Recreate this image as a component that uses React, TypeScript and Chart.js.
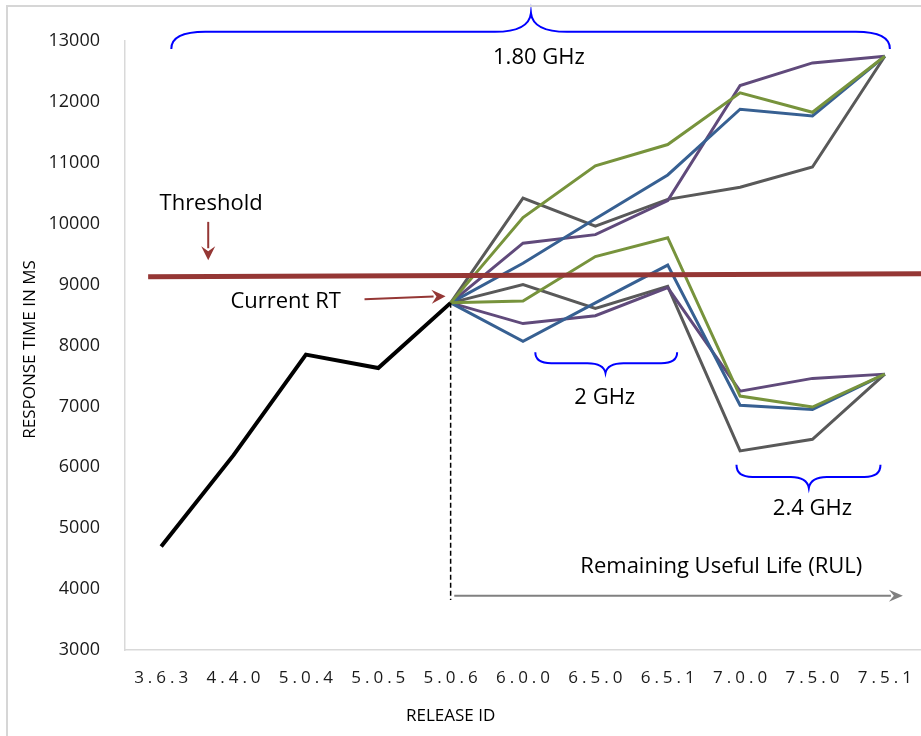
import React, { useEffect, useRef } from "react";
import { Chart, registerables } from "chart.js";

Chart.register(...registerables);

// ---------- data ----------
const CATEGORIES = ["3.6.3", "4.4.0", "5.0.4", "5.0.5", "5.0.6", "6.0.0", "6.5.0", "6.5.1", "7.0.0", "7.5.0", "7.5.1"];
const Y_MIN = 3000;
const Y_MAX = 13000;
const Y_STEP = 1000;

const HISTORY = [4700, 6200, 7850, 7630, 8700];
const CURRENT_RT = 8700;

// 1.80 GHz projections (6.0.0 .. 7.5.1)
const UP_GREEN = [10100, 10950, 11300, 12150, 11830, 12750];
const UP_BLUE = [9350, 10080, 10800, 11880, 11770, 12750];
const UP_PURPLE = [9680, 9820, 10380, 12270, 12640, 12750];
const UP_GRAY = [10420, 9960, 10400, 10600, 10930, 12750];

// 2 / 2.4 GHz projections (6.0.0 .. 7.5.1)
const LOW_GREEN = [8730, 9460, 9770, 7170, 6990, 7530];
const LOW_BLUE = [8070, 8700, 9320, 7020, 6950, 7530];
const LOW_PURPLE = [8360, 8490, 8950, 7250, 7460, 7530];
const LOW_GRAY = [9000, 8610, 8970, 6270, 6460, 7530];

const THRESHOLD = [9130, 9180]; // left end, right end

const LABEL_18 = "1.80 GHz";
const LABEL_2 = "2 GHz";
const LABEL_24 = "2.4 GHz";

// ---------- styles ----------
const GREEN = "#77933C";
const BLUE = "#376092";
const PURPLE = "#604A7B";
const GRAY = "#595959";
const DARK_RED = "#953735";
const BRACE_BLUE = "#0000FF";
const FONT = "'Open Sans', 'Noto Sans', sans-serif";

const CURRENT_INDEX = HISTORY.length - 1;
const pad = (arr: number[]) => [
  ...Array(CURRENT_INDEX).fill(null),
  CURRENT_RT,
  ...arr,
];

const annotations = {
  id: "annotations",
  afterDatasetsDraw(chart: any) {
    const ctx: CanvasRenderingContext2D = chart.ctx;
    const xs = chart.scales.x;
    const ys = chart.scales.y;
    const px = (i: number) => xs.getPixelForValue(i);
    const py = (v: number) => ys.getPixelForValue(v);
    const area = chart.chartArea;

    ctx.save();
    // threshold line
    ctx.strokeStyle = DARK_RED;
    ctx.lineWidth = 5;
    ctx.beginPath();
    ctx.moveTo(px(-0.18), py(THRESHOLD[0]));
    ctx.lineTo(area.right, py(THRESHOLD[1]));
    ctx.stroke();
    ctx.restore();
  },
  afterDraw(chart: any) {
    const ctx: CanvasRenderingContext2D = chart.ctx;
    const xs = chart.scales.x;
    const ys = chart.scales.y;
    const px = (i: number) => xs.getPixelForValue(i);
    const py = (v: number) => ys.getPixelForValue(v);
    const area = chart.chartArea;

    ctx.save();

    // x tick labels (letter-spaced)
    ctx.fillStyle = "#1a1a1a";
    ctx.font = `17px ${FONT}`;
    (ctx as any).letterSpacing = "4px";
    ctx.textAlign = "center";
    ctx.textBaseline = "middle";
    CATEGORIES.forEach((c, i) => {
      ctx.fillText(c, px(i) + 2, area.bottom + 28);
    });
    (ctx as any).letterSpacing = "0px";

    // axis titles
    ctx.font = `17px ${FONT}`;
    ctx.fillStyle = "#000";
    ctx.fillText("RELEASE ID", px(CURRENT_INDEX), area.bottom + 66);
    ctx.save();
    ctx.translate(30, (area.top + area.bottom) / 2 + 4);
    ctx.rotate(-Math.PI / 2);
    ctx.fillText("RESPONSE TIME IN MS", 0, 0);
    ctx.restore();

    // annotation texts
    ctx.font = `22px ${FONT}`;
    ctx.fillStyle = "#000";
    ctx.fillText("Threshold", px(0.69), py(10320));
    ctx.fillText("Current RT", px(1.72), py(8715));
    ctx.fillText("Remaining Useful Life (RUL)", px(7.74), py(4360));
    ctx.fillText(LABEL_18, px(5.22), py(12720));
    ctx.fillText(LABEL_2, px(6.13), py(7140));
    ctx.fillText(LABEL_24, px(9.0), py(5320));

    const arrow = (x1: number, y1: number, x2: number, y2: number, color: string, w: number, hl: number, hw: number) => {
      const ang = Math.atan2(y2 - y1, x2 - x1);
      const bx = x2 - hl * Math.cos(ang);
      const by = y2 - hl * Math.sin(ang);
      ctx.strokeStyle = color;
      ctx.fillStyle = color;
      ctx.lineWidth = w;
      ctx.beginPath();
      ctx.moveTo(x1, y1);
      ctx.lineTo(bx + 2 * Math.cos(ang), by + 2 * Math.sin(ang));
      ctx.stroke();
      ctx.beginPath();
      ctx.moveTo(x2, y2);
      ctx.lineTo(bx + hw * Math.sin(ang), by - hw * Math.cos(ang));
      ctx.lineTo(bx + 0.35 * hl * Math.cos(ang), by + 0.35 * hl * Math.sin(ang));
      ctx.lineTo(bx - hw * Math.sin(ang), by + hw * Math.cos(ang));
      ctx.closePath();
      ctx.fill();
    };

    // threshold arrow (down)
    arrow(px(0.65), py(10030), px(0.65), py(9400), DARK_RED, 2, 14, 7);
    // current RT arrow
    arrow(px(2.81), py(8760), px(3.93), py(8810), DARK_RED, 2, 14, 7);

    // dashed vertical at current release
    ctx.strokeStyle = "#000";
    ctx.lineWidth = 1.5;
    ctx.setLineDash([5, 3]);
    ctx.beginPath();
    ctx.moveTo(px(CURRENT_INDEX), py(CURRENT_RT));
    ctx.lineTo(px(CURRENT_INDEX), py(3820));
    ctx.stroke();
    ctx.setLineDash([]);

    // RUL arrow
    arrow(px(4.05), py(3890), px(10.25), py(3890), "#808080", 2, 14, 6);

    // braces
    const brace = (x1: number, xt: number, x2: number, yEnd: number, yMid: number, yTip: number, rEnd: number, rTip: number) => {
      ctx.strokeStyle = BRACE_BLUE;
      ctx.lineWidth = 2;
      ctx.beginPath();
      ctx.moveTo(x1, yEnd);
      ctx.quadraticCurveTo(x1, yMid, x1 + rEnd, yMid);
      ctx.lineTo(xt - rTip, yMid);
      ctx.quadraticCurveTo(xt - 2, yMid, xt, yTip);
      ctx.quadraticCurveTo(xt + 2, yMid, xt + rTip, yMid);
      ctx.lineTo(x2 - rEnd, yMid);
      ctx.quadraticCurveTo(x2, yMid, x2, yEnd);
      ctx.stroke();
    };
    brace(px(0.14), px(5.11), px(10.07), py(12870), py(13150), py(13460), 34, 36);
    brace(px(5.17), px(6.14), px(7.13), py(7890), py(7710), py(7550), 16, 18);
    brace(px(7.95), px(8.95), px(9.94), py(6040), py(5840), py(5660), 16, 18);

    ctx.restore();
  },
};

export default function App() {
  const canvasRef = useRef<HTMLCanvasElement | null>(null);

  useEffect(() => {
    const prevMargin = document.body.style.margin;
    document.body.style.margin = "0";
    const canvas = canvasRef.current!;
    const line = (data: (number | null)[], color: string, width: number) => ({
      data,
      borderColor: color,
      backgroundColor: color,
      borderWidth: width,
      pointRadius: 0,
      tension: 0,
      spanGaps: false,
      fill: false,
    });
    const chart = new Chart(canvas, {
      type: "line",
      data: {
        labels: CATEGORIES,
        datasets: [
          line(pad(UP_GREEN), GREEN, 3),
          line(pad(LOW_GREEN), GREEN, 3),
          line(pad(UP_BLUE), BLUE, 3),
          line(pad(LOW_BLUE), BLUE, 3),
          line(pad(UP_PURPLE), PURPLE, 3),
          line(pad(LOW_PURPLE), PURPLE, 3),
          line(pad(UP_GRAY), GRAY, 3),
          line(pad(LOW_GRAY), GRAY, 3),
          line([...HISTORY, ...Array(CATEGORIES.length - HISTORY.length).fill(null)], "#000000", 4),
        ],
      },
      options: {
        animation: false,
        responsive: false,
        maintainAspectRatio: false,
        layout: { padding: { top: 41, right: 0, left: 0, bottom: 0 } },
        plugins: {
          legend: { display: false },
          tooltip: { enabled: false },
          title: { display: false },
        },
        scales: {
          x: {
            type: "category",
            offset: true,
            grid: { display: false },
            border: { display: true, color: "#d9d9d9", width: 1.5 },
            ticks: { display: false },
            afterFit: (s: any) => {
              s.height = 86;
            },
          },
          y: {
            min: Y_MIN,
            max: Y_MAX,
            grid: { display: false },
            border: { display: true, color: "#d9d9d9", width: 1.5 },
            ticks: {
              stepSize: Y_STEP,
              padding: 17,
              color: "#1a1a1a",
              font: { family: FONT, size: 18 },
              callback: (v: any) => String(v),
            },
            afterFit: (s: any) => {
              s.width = 125;
            },
          },
        },
      },
      plugins: [annotations],
    });
    return () => {
      chart.destroy();
      document.body.style.margin = prevMargin;
    };
  }, []);

  return (
    <div style={{ position: "absolute", left: 0, top: 0, width: 921, height: 736, background: "#fff", overflow: "hidden" }}>
      <canvas ref={canvasRef} width={921} height={736} style={{ width: 921, height: 736, display: "block" }} />
      <div
        style={{
          position: "absolute",
          left: 6,
          top: 5,
          width: 940,
          height: 760,
          border: "2px solid #d6d6d6",
          boxSizing: "border-box",
          pointerEvents: "none",
        }}
      />
    </div>
  );
}
